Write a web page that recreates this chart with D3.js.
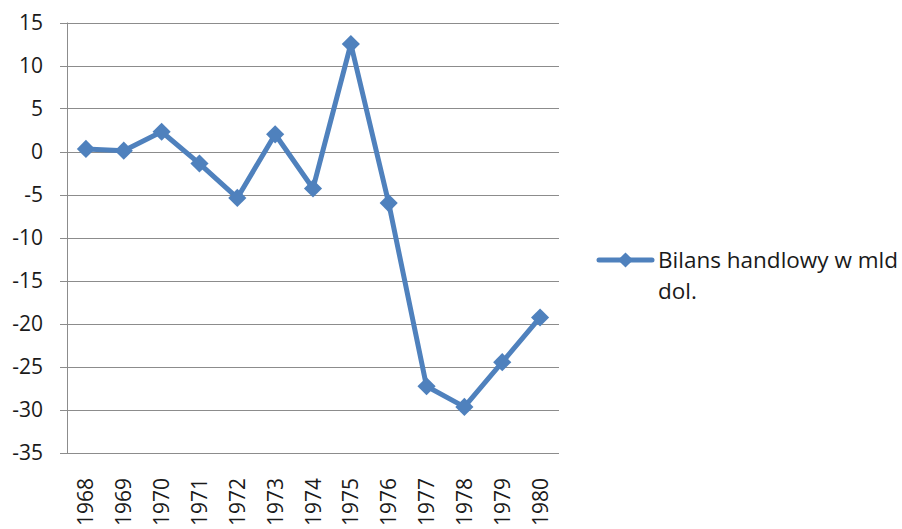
<!DOCTYPE html>
<html>
<head>
<meta charset="utf-8">
<script src="https://cdn.jsdelivr.net/npm/d3@7"></script>
<style>
  html, body { margin: 0; padding: 0; background: #fff; }
  svg { display: block; }
  text { font-family: "Open Sans", "Noto Sans", sans-serif; fill: #1a1a1a; }
</style>
</head>
<body>
<svg id="chart" width="902" height="529"></svg>
<script>
// Trade balance, billions of dollars
const years = ["1968","1969","1970","1971","1972","1973","1974","1975","1976","1977","1978","1979","1980"];
const balance = [0.3, 0.1, 2.3, -1.4, -5.4, 2.0, -4.3, 12.5, -6.0, -27.3, -29.7, -24.5, -19.3];
const yTicks = [15, 10, 5, 0, -5, -10, -15, -20, -25, -30, -35];
const seriesName = ["Bilans handlowy w mld", "dol."];

const svg = d3.select("#chart");
const blue = "#4F81BD";
const grid = "#8c8c8c";

const plot = { left: 67, right: 559, top: 22.5, bottom: 452.5 };

const y = d3.scaleLinear().domain([-35, 15]).range([plot.bottom, plot.top]);
const x = d3.scaleBand().domain(years).range([plot.left, plot.right]);
const cx = d => x(d) + x.bandwidth() / 2;

// horizontal gridlines + y tick marks
svg.append("g").selectAll("line").data(yTicks).join("line")
  .attr("x1", plot.left - 7).attr("x2", plot.right)
  .attr("y1", d => Math.round(y(d)) + 0.5).attr("y2", d => Math.round(y(d)) + 0.5)
  .attr("stroke", grid).attr("stroke-width", 1);

// vertical axis line
svg.append("line")
  .attr("x1", plot.left + 0.5).attr("x2", plot.left + 0.5)
  .attr("y1", plot.top).attr("y2", Math.round(plot.bottom) + 0.5)
  .attr("stroke", grid).attr("stroke-width", 1);

// y tick labels
svg.append("g").selectAll("text").data(yTicks).join("text")
  .attr("x", 43).attr("y", d => y(d))
  .attr("dy", "0.36em")
  .attr("text-anchor", "end")
  .style("font-size", "21px")
  .text(d => d);

// x category labels, rotated
svg.append("g").selectAll("text").data(years).join("text")
  .attr("transform", d => `translate(${cx(d)},478) rotate(-90)`)
  .attr("dy", "0.36em")
  .attr("text-anchor", "end")
  .style("font-size", "21px")
  .text(d => d);

// series line
const line = d3.line().x((d, i) => cx(years[i])).y(d => y(d));
svg.append("path").datum(balance)
  .attr("d", line)
  .attr("fill", "none")
  .attr("stroke", blue)
  .attr("stroke-width", 5)
  .attr("stroke-linejoin", "round");

// diamond markers
svg.append("g").selectAll("path").data(balance).join("path")
  .attr("transform", (d, i) => `translate(${cx(years[i])},${y(d)}) rotate(45)`)
  .attr("d", d3.symbol().type(d3.symbolSquare).size(165))
  .attr("fill", blue);

// legend
const lg = svg.append("g");
lg.append("line")
  .attr("x1", 599).attr("x2", 652).attr("y1", 260).attr("y2", 260)
  .attr("stroke", blue).attr("stroke-width", 5).attr("stroke-linecap", "round");
lg.append("path")
  .attr("transform", "translate(625.5,260) rotate(45)")
  .attr("d", d3.symbol().type(d3.symbolSquare).size(115))
  .attr("fill", blue);
lg.selectAll("text").data(seriesName).join("text")
  .attr("x", 658).attr("y", (d, i) => 268 + i * 31)
  .style("font-size", "22.5px")
  .text(d => d);
</script>
</body>
</html>
